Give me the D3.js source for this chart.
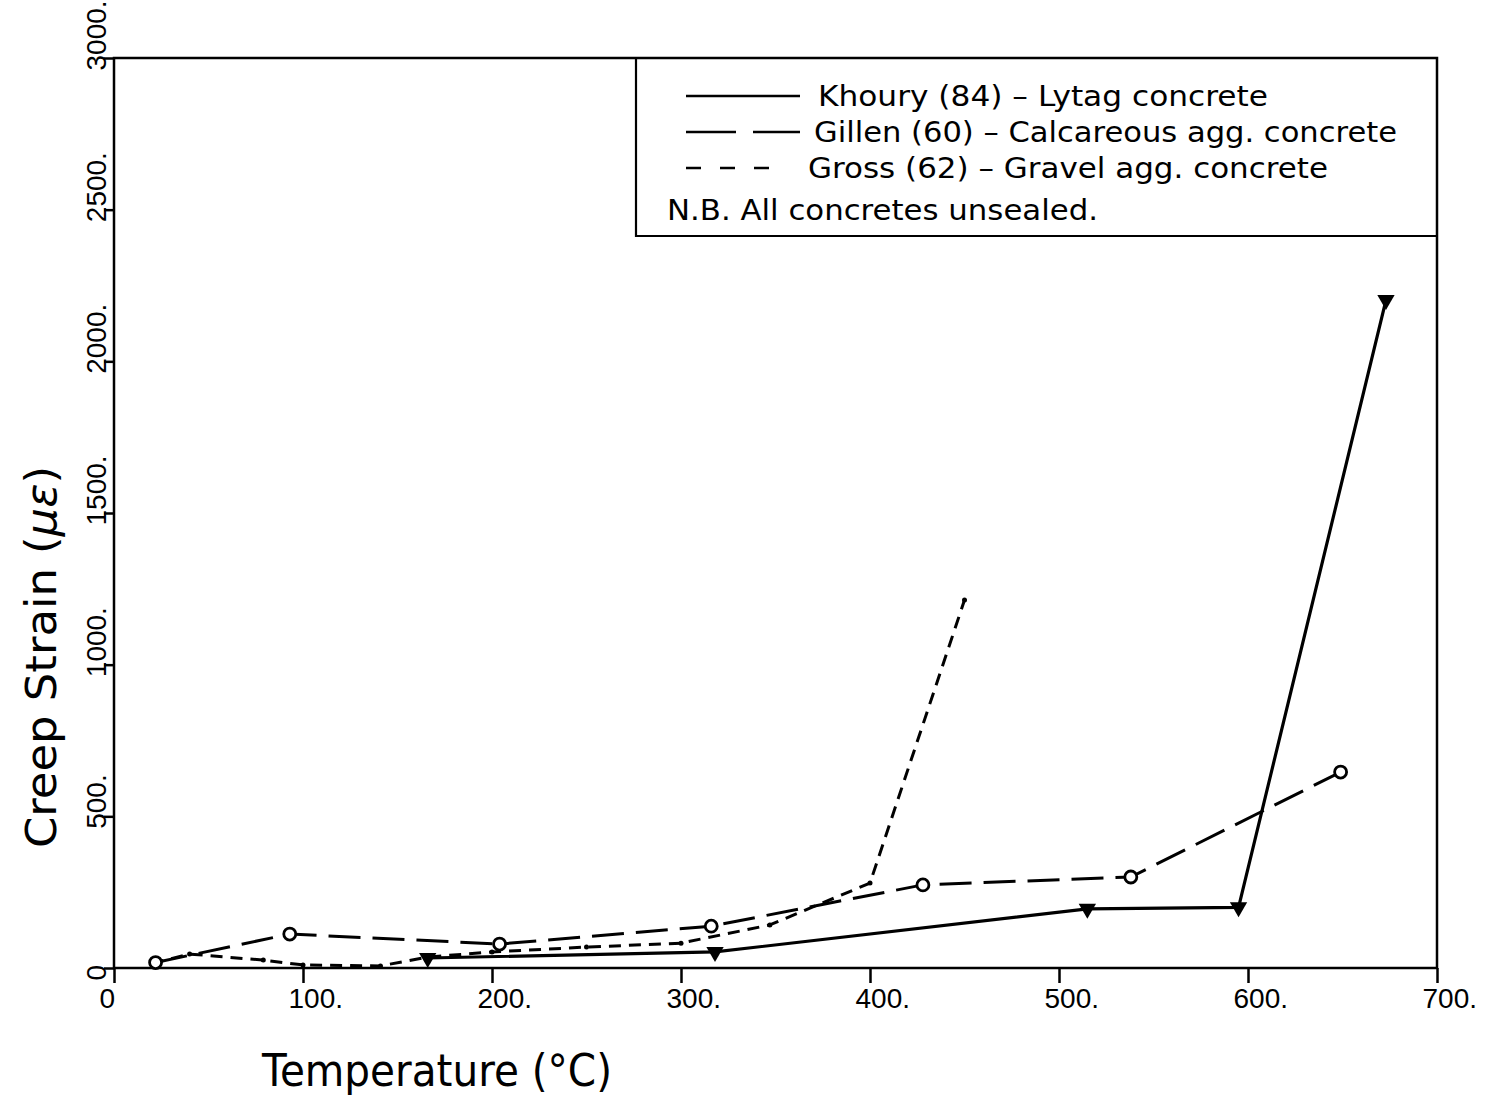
<!DOCTYPE html>
<html>
<head>
<meta charset="utf-8">
<script src="https://cdn.jsdelivr.net/npm/d3@7"></script>
<style>
  body { margin: 0; background: #fff; }
  text { font-family: "DejaVu Sans", sans-serif; fill: #000; }
  .tick text { font-family: "Liberation Sans", sans-serif; }
</style>
</head>
<body>
<script>
// Kriechdehnung über Temperatur, drei Betonserien

// Khoury (84) - Lytag, Dreiecke
const khouryTemp = [166, 318, 515, 595, 673];
const khouryStrain = [33, 53, 195, 200, 2202];

// Gillen (60) - Kalkstein, Kreise
const gillenTemp = [22, 93, 204, 316, 428, 538, 649];
const gillenStrain = [18, 112, 79, 138, 274, 300, 646];

// Gross (62) - Kies, kleine Punkte
const grossTemp = [20, 40, 79, 100, 141, 166, 200, 250, 300, 347, 400, 450];
const grossStrain = [15, 46, 26, 10, 7, 36, 53, 69, 82, 142, 280, 1213];

const xTicks = [0, 100, 200, 300, 400, 500, 600, 700];
const yTicks = [0, 500, 1000, 1500, 2000, 2500, 3000];

const legendLabels = [
  "Khoury (84) – Lytag concrete",
  "Gillen (60) – Calcareous agg. concrete",
  "Gross (62) – Gravel agg. concrete"
];
const legendNote = "N.B. All concretes unsealed.";

const width = 1490, height = 1099;
const margin = { top: 58, right: 53, bottom: 131, left: 114 };

const svg = d3.select("body").append("svg")
  .attr("width", width)
  .attr("height", height);

// Skalen
const x = d3.scaleLinear().domain([0, 700]).range([margin.left, width - margin.right]);
const y = d3.scaleLinear().domain([0, 3000]).range([height - margin.bottom, margin.top]);

const fmt = d => d === 0 ? "0" : d + ".";

// x-Achse
const gx = svg.append("g")
  .attr("transform", `translate(0,${y(0)})`)
  .call(d3.axisBottom(x).tickValues(xTicks).tickFormat(fmt).tickSizeInner(15).tickSizeOuter(0));
gx.select(".domain").remove();
gx.selectAll(".tick line").attr("stroke-width", 2.5);
gx.selectAll(".tick text")
  .attr("text-anchor", "start")
  .attr("x", -15)
  .attr("y", 40)
  .attr("dy", 0)
  .style("font-size", "28px");

// y-Achse, Beschriftung gedreht
const gy = svg.append("g")
  .attr("transform", `translate(${x(0)},0)`)
  .call(d3.axisLeft(y).tickValues(yTicks).tickFormat(fmt).tickSizeInner(10).tickSizeOuter(0));
gy.select(".domain").remove();
gy.selectAll(".tick line").attr("stroke-width", 2.5);
gy.selectAll(".tick text")
  .attr("x", null).attr("dy", null)
  .attr("text-anchor", "start")
  .attr("transform", "translate(-8,12) rotate(-90)")
  .style("font-size", "28px");

// Rahmen
svg.append("rect")
  .attr("x", x(0)).attr("y", y(3000))
  .attr("width", x(700) - x(0)).attr("height", y(0) - y(3000))
  .attr("fill", "none").attr("stroke", "#000").attr("stroke-width", 2.5);

// Achsentitel
svg.append("text")
  .attr("x", 262).attr("y", 1086)
  .attr("textLength", 350).attr("lengthAdjust", "spacingAndGlyphs")
  .style("font-size", "44px")
  .text("Temperature (°C)");

const yTitle = svg.append("text")
  .attr("transform", "translate(56,848) rotate(-90)")
  .attr("textLength", 382).attr("lengthAdjust", "spacingAndGlyphs")
  .style("font-size", "42px");
yTitle.append("tspan").text("Creep Strain (");
yTitle.append("tspan").style("font-style", "italic").text("με");
yTitle.append("tspan").text(")");

// Linien
const line = d3.line().x(d => x(d[0])).y(d => y(d[1]));
const pairs = (t, s) => t.map((v, i) => [v, s[i]]);

const khoury = pairs(khouryTemp, khouryStrain);
const gillen = pairs(gillenTemp, gillenStrain);
const gross = pairs(grossTemp, grossStrain);

svg.append("path").datum(gross)
  .attr("d", line).attr("fill", "none").attr("stroke", "#000")
  .attr("stroke-width", 3).attr("stroke-dasharray", "12 8");

svg.append("path").datum(gillen)
  .attr("d", line).attr("fill", "none").attr("stroke", "#000")
  .attr("stroke-width", 3).attr("stroke-dasharray", "32 12");

svg.append("path").datum(khoury)
  .attr("d", line).attr("fill", "none").attr("stroke", "#000")
  .attr("stroke-width", 3.2);

// Marker
svg.append("g").selectAll("circle.gross").data(gross).join("circle")
  .attr("cx", d => x(d[0])).attr("cy", d => y(d[1]))
  .attr("r", 2.5).attr("fill", "#000");

svg.append("g").selectAll("circle.gillen").data(gillen).join("circle")
  .attr("cx", d => x(d[0])).attr("cy", d => y(d[1]))
  .attr("r", 6).attr("fill", "#fff").attr("stroke", "#000").attr("stroke-width", 2.8);

const tri = d3.symbol().type(d3.symbolTriangle).size(130);
svg.append("g").selectAll("path").data(khoury).join("path")
  .attr("d", tri)
  .attr("transform", d => `translate(${x(d[0])},${y(d[1])}) rotate(180)`)
  .attr("fill", "#000");

// Legende
svg.append("path")
  .attr("d", `M636,${y(3000)} V236 H${x(700)}`)
  .attr("fill", "none").attr("stroke", "#000").attr("stroke-width", 2.2);

const legendDash = [null, "50 17", "15 19"];
const legendWidth = [450, 583, 520];
const legendX = [818, 814, 808];
legendLabels.forEach((lab, i) => {
  const ly = 96 + i * 36;
  svg.append("line")
    .attr("x1", 686).attr("x2", i === 2 ? 771 : 800)
    .attr("y1", ly).attr("y2", ly)
    .attr("stroke", "#000").attr("stroke-width", 2.5)
    .attr("stroke-dasharray", legendDash[i]);
  svg.append("text")
    .attr("x", legendX[i]).attr("y", ly + 10)
    .attr("textLength", legendWidth[i]).attr("lengthAdjust", "spacingAndGlyphs")
    .style("font-size", "29px")
    .text(lab);
});
svg.append("text")
  .attr("x", 667).attr("y", 220)
  .attr("textLength", 431).attr("lengthAdjust", "spacingAndGlyphs")
  .style("font-size", "29px")
  .text(legendNote);
</script>
</body>
</html>
